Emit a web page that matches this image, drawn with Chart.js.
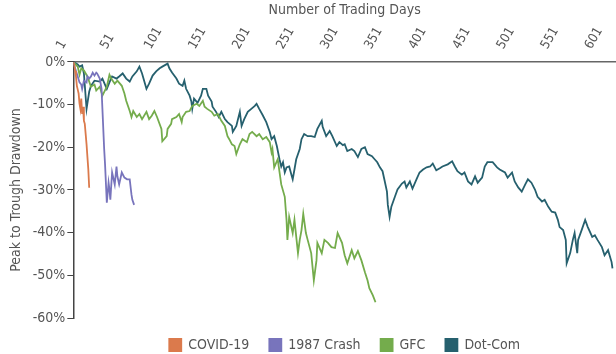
<!doctype html>
<html lang="en">
<head>
  <meta charset="utf-8">
  <title>Peak to Trough Drawdown</title>
  <script src="https://cdn.jsdelivr.net/npm/chart.js@4.4.1/dist/chart.umd.min.js"></script>
  <style>
    body { margin: 0; background: #fff; }
    #chart { display: block; }
  </style>
</head>
<body>
  <canvas id="chart" width="616" height="354"></canvas>
  <script>
    // x tick labels (trading day numbers)
    const tickDays = [1, 51, 101, 151, 201, 251, 301, 351, 401, 451, 501, 551, 601];

    // COVID-19
    const covidDays = [1, 2, 3, 4, 5, 6, 7, 8, 9, 10, 11, 12, 13, 14, 15, 16, 17, 18, 19];
    const covidPct = [0, -0.7, -2.1, -3.4, -5.6, -6.5, -7.4, -9.8, -11.0, -8.6, -12.2, -10.5, -13.8, -14.5, -16.9, -19.3, -22.3, -25.2, -29.5];

    // 1987 Crash
    const crashDays = [1, 3, 6, 8, 10, 11, 13, 16, 17, 19, 21, 23, 25, 27, 28, 31, 33, 34, 36, 37, 39, 41, 42, 43, 45, 48, 50, 51, 53, 56, 59, 62, 65, 67, 68, 70];
    const crashPct = [0, -1.5, -3.4, -4.8, -5.3, -6.3, -4.4, -4.8, -3.4, -3.9, -3.4, -2.5, -3.2, -2.5, -2.7, -3.9, -6.3, -11.0, -20.4, -24.0, -33.0, -28.3, -29.9, -32.3, -25.9, -28.7, -24.5, -26.8, -28.7, -25.9, -27.1, -27.5, -27.5, -31.1, -32.3, -33.5];

    // GFC
    const gfcDays = [1, 6, 8, 10, 13, 17, 21, 25, 27, 31, 34, 39, 42, 44, 48, 51, 56, 59, 61, 65, 67, 69, 73, 76, 79, 84, 87, 90, 93, 96, 101, 102, 107, 108, 112, 113, 118, 121, 124, 125, 129, 133, 136, 141, 144, 148, 150, 153, 158, 161, 165, 169, 173, 176, 178, 181, 184, 186, 190, 193, 198, 201, 204, 209, 212, 216, 220, 224, 226, 227, 229, 233, 237, 241, 243, 244, 246, 250, 252, 256, 258, 260, 262, 265, 267, 271, 274, 277, 278, 283, 286, 290, 294, 298, 301, 306, 309, 312, 317, 320, 324, 328, 332, 335, 337, 341, 344];
    const gfcPct = [0, -1.1, -3.0, -1.5, -2.0, -3.4, -5.8, -5.3, -6.7, -5.8, -7.9, -5.8, -3.0, -3.9, -5.1, -4.4, -5.6, -7.4, -9.1, -11.5, -12.9, -11.5, -12.9, -12.2, -13.4, -11.7, -13.4, -12.6, -11.5, -12.9, -15.7, -18.6, -17.4, -15.7, -14.5, -13.4, -12.9, -12.2, -14.1, -12.9, -11.7, -11.5, -10.3, -9.8, -10.3, -9.1, -10.5, -11.0, -11.7, -12.6, -12.2, -13.8, -15.0, -17.4, -18.1, -19.3, -19.7, -21.6, -19.3, -18.1, -18.8, -16.9, -16.4, -17.4, -16.9, -18.1, -17.6, -18.8, -21.2, -20.4, -24.7, -22.8, -28.7, -31.6, -37.0, -41.7, -36.3, -40.1, -37.0, -44.8, -41.7, -39.4, -35.6, -40.1, -41.7, -44.8, -51.2, -46.5, -42.4, -44.8, -41.7, -42.4, -43.4, -43.6, -40.1, -42.4, -45.3, -47.2, -44.1, -46.0, -44.3, -46.5, -49.3, -51.2, -53.0, -54.7, -56.3];

    // Dot-Com
    const dotcomDays = [1, 6, 8, 11, 13, 16, 19, 21, 25, 31, 34, 39, 42, 45, 50, 53, 57, 61, 65, 68, 73, 76, 79, 84, 87, 91, 95, 99, 102, 108, 110, 113, 118, 121, 125, 127, 129, 133, 135, 136, 138, 142, 146, 148, 152, 154, 158, 159, 163, 166, 169, 173, 176, 181, 182, 186, 190, 192, 195, 199, 203, 207, 209, 212, 216, 220, 224, 226, 229, 232, 235, 237, 239, 241, 243, 246, 249, 250, 252, 254, 258, 260, 263, 267, 271, 275, 278, 283, 284, 288, 292, 295, 300, 303, 307, 309, 312, 317, 320, 324, 328, 332, 335, 340, 343, 346, 349, 352, 354, 357, 358, 360, 362, 366, 369, 374, 377, 379, 383, 386, 391, 394, 398, 402, 406, 409, 413, 417, 420, 426, 431, 434, 437, 442, 445, 449, 453, 457, 460, 465, 468, 471, 477, 482, 485, 491, 494, 499, 502, 506, 510, 514, 517, 521, 525, 528, 533, 536, 540, 544, 548, 551, 553, 557, 560, 561, 565, 568, 570, 573, 574, 578, 582, 585, 590, 593, 596, 601, 604, 608, 612, 613];
    const dotcomPct = [0, -0.6, -1.1, -0.8, -2.7, -11.0, -7.0, -5.6, -4.4, -4.6, -3.9, -6.3, -4.8, -3.4, -3.9, -3.4, -2.7, -3.9, -4.6, -3.4, -2.2, -1.1, -2.7, -6.3, -5.1, -3.2, -2.2, -1.5, -1.1, -0.4, -1.5, -2.5, -3.9, -5.1, -5.6, -4.4, -6.3, -7.9, -9.3, -11.0, -8.6, -9.6, -7.9, -6.3, -6.3, -7.9, -9.3, -10.5, -11.7, -12.9, -11.7, -13.4, -14.1, -15.0, -16.4, -15.0, -11.7, -15.0, -13.4, -11.7, -11.0, -10.3, -9.8, -11.0, -12.5, -14.1, -16.4, -18.1, -17.4, -19.7, -22.8, -24.5, -23.5, -25.9, -24.7, -24.5, -26.8, -27.5, -25.2, -22.8, -20.4, -18.1, -16.9, -17.4, -17.4, -17.6, -15.7, -13.8, -15.2, -17.4, -16.2, -17.4, -19.7, -18.8, -19.5, -19.3, -20.9, -20.4, -20.9, -22.3, -20.4, -20.0, -21.6, -22.1, -22.8, -23.5, -24.7, -25.6, -27.5, -30.4, -33.5, -36.3, -33.9, -31.6, -29.9, -28.5, -28.0, -29.4, -28.0, -29.7, -27.3, -25.9, -25.2, -24.7, -24.5, -23.8, -25.4, -24.9, -24.5, -24.0, -23.3, -24.5, -25.6, -26.4, -25.9, -28.0, -28.7, -26.8, -28.3, -27.1, -24.5, -23.5, -23.5, -24.7, -25.2, -25.9, -27.1, -25.9, -28.0, -29.4, -30.4, -28.7, -27.5, -28.3, -29.9, -31.6, -32.7, -32.3, -33.9, -35.1, -35.3, -37.0, -38.7, -39.4, -41.7, -47.2, -44.8, -41.7, -40.1, -44.8, -41.7, -39.4, -37.0, -38.7, -41.0, -40.6, -41.7, -43.4, -45.3, -44.1, -46.9, -48.4];

    const seriesNames = ['COVID-19', '1987 Crash', 'GFC', 'Dot-Com'];
    const seriesColors = ['#DB7A4C', '#7874BC', '#74AC4C', '#26606E'];

    function pts(days, vals) {
      return days.map((d, i) => ({ x: d, y: vals[i] }));
    }

    const sets = [pts(covidDays, covidPct), pts(crashDays, crashPct), pts(gfcDays, gfcPct), pts(dotcomDays, dotcomPct)];

    const fontFam = '"Liberation Sans Narrow", "DejaVu Sans Condensed", sans-serif';
    const txt = '#555';

    new Chart(document.getElementById('chart'), {
      type: 'line',
      data: {
        datasets: sets.map((d, i) => ({
          label: seriesNames[i],
          data: d,
          borderColor: seriesColors[i],
          backgroundColor: seriesColors[i],
          borderWidth: 1.8,
          pointRadius: 0,
          tension: 0
        }))
      },
      options: {
        responsive: false,
        animation: false,
        // negative bottom padding pulls the legend down near the canvas edge
        layout: { padding: { left: 8, right: 0, top: 2, bottom: -8 } },
        plugins: {
          legend: {
            position: 'bottom',
            fullSize: false,
            labels: {
              boxWidth: 12,
              boxHeight: 12,
              padding: 20,
              color: txt,
              font: { family: fontFam, size: 14 }
            }
          },
          tooltip: { enabled: false }
        },
        scales: {
          x: {
            type: 'linear',
            position: 'top',
            min: 1,
            max: 617,
            afterBuildTicks: axis => { axis.ticks = tickDays.map(v => ({ value: v })); },
            grid: { display: false },
            border: { color: '#666', width: 1.5 },
            ticks: {
              color: txt,
              minRotation: 60,
              maxRotation: 60,
              padding: 2,
              font: { family: fontFam, size: 13 }
            },
            title: {
              display: true,
              text: 'Number of Trading Days',
              color: txt,
              padding: { top: 0, bottom: 4 },
              font: { family: fontFam, size: 14 }
            }
          },
          y: {
            min: -60,
            max: 0,
            grid: { display: true, drawOnChartArea: false, drawTicks: true, tickLength: 6, color: '#444' },
            border: { color: '#444', width: 1.5 },
            ticks: {
              stepSize: 10,
              color: txt,
              padding: 2,
              font: { family: fontFam, size: 14 },
              callback: v => v + '%'
            },
            title: {
              display: true,
              text: 'Peak to Trough Drawdown',
              color: txt,
              padding: { top: 0, bottom: 6 },
              font: { family: fontFam, size: 14 }
            }
          }
        }
      }
    });
  </script>
</body>
</html>
